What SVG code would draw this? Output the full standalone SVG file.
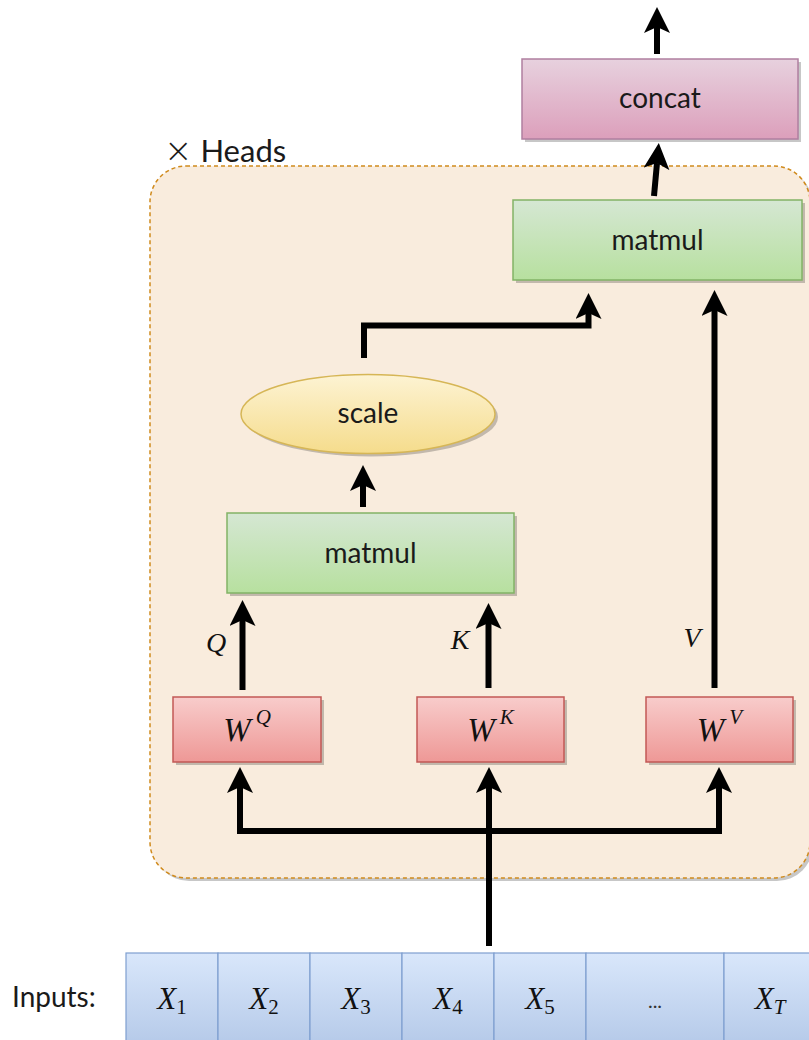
<svg xmlns="http://www.w3.org/2000/svg" width="809" height="1040" viewBox="0 0 809 1040">
  <defs>
    <linearGradient id="gPink" x1="0" y1="0" x2="0" y2="1">
      <stop offset="0" stop-color="#e7d1de"/>
      <stop offset="1" stop-color="#dc9fbb"/>
    </linearGradient>
    <linearGradient id="gGreen" x1="0" y1="0" x2="0" y2="1">
      <stop offset="0" stop-color="#d5e7d3"/>
      <stop offset="1" stop-color="#b7e09f"/>
    </linearGradient>
    <linearGradient id="gYellow" x1="0" y1="0" x2="0" y2="1">
      <stop offset="0" stop-color="#fdf3d3"/>
      <stop offset="1" stop-color="#f5dc8c"/>
    </linearGradient>
    <linearGradient id="gRed" x1="0" y1="0" x2="0" y2="1">
      <stop offset="0" stop-color="#f8cccb"/>
      <stop offset="1" stop-color="#ee9896"/>
    </linearGradient>
    <linearGradient id="gBlue" x1="0" y1="0" x2="0" y2="1">
      <stop offset="0" stop-color="#d9e7fb"/>
      <stop offset="1" stop-color="#b2c7e7"/>
    </linearGradient>
    <!-- notched block arrowhead; reference point sits at the notch -->
    <marker id="arrow" markerUnits="userSpaceOnUse" markerWidth="30" markerHeight="30"
            viewBox="0 0 30 30" refX="6" refY="13" orient="auto">
      <path d="M26,13 L0,0 L6,13 L0,26 Z" fill="#000"/>
    </marker>
    <style>
      .shadow { fill: #000; fill-opacity: 0.22; }
      .label { font-family: Lato, "Liberation Sans", sans-serif; font-size: 28px; fill: #1a1a1a; }
      .title { font-size: 31px; }
      .dots { font-size: 20px; fill: #333; }
      .math { font-family: "Liberation Serif", serif; font-style: italic; fill: #111; }
      .sub { font-style: normal; }
      .edge { fill: none; stroke: #000; stroke-width: 6; marker-end: url(#arrow); }
    </style>
  </defs>

  <rect width="809" height="1040" fill="#ffffff"/>

  <!-- per-head container -->
  <g id="heads">
    <rect class="shadow" x="153" y="169" width="660" height="712" rx="36"/>
    <rect x="150" y="166" width="660" height="712" rx="36" fill="#f9ecdd"
          stroke="#d08a1c" stroke-width="1.5" stroke-dasharray="4 3"/>
    <text class="label title" x="164" y="162"><tspan font-size="34" font-family="'DejaVu Sans', sans-serif" font-weight="200">×</tspan> Heads</text>
  </g>

  <g id="concat">
    <rect class="shadow" x="525" y="62" width="276" height="80"/>
    <rect x="522" y="59" width="276" height="80" fill="url(#gPink)" stroke="#b07fa0" stroke-width="1.5"/>
    <text class="label" x="660" y="108" text-anchor="middle">concat</text>
  </g>

  <g id="matmul-top">
    <rect class="shadow" x="516" y="203" width="289" height="80"/>
    <rect x="513" y="200" width="289" height="80" fill="url(#gGreen)" stroke="#82b366" stroke-width="1.5"/>
    <text class="label" x="657.5" y="250" text-anchor="middle">matmul</text>
  </g>

  <g id="scale">
    <ellipse class="shadow" cx="371" cy="417" rx="127" ry="39.5"/>
    <ellipse cx="368" cy="414" rx="127" ry="39.5" fill="url(#gYellow)" stroke="#d6b656" stroke-width="1.5"/>
    <text class="label" x="368" y="423" text-anchor="middle">scale</text>
  </g>

  <g id="matmul-bottom">
    <rect class="shadow" x="230" y="516" width="287" height="80"/>
    <rect x="227" y="513" width="287" height="80" fill="url(#gGreen)" stroke="#82b366" stroke-width="1.5"/>
    <text class="label" x="370.5" y="563" text-anchor="middle">matmul</text>
  </g>

  <g id="wq">
    <rect class="shadow" x="176" y="700" width="148" height="65"/>
    <rect x="173" y="697" width="148" height="65" fill="url(#gRed)" stroke="#c25855" stroke-width="1.5"/>
    <text class="math" x="247" y="741" text-anchor="middle" font-size="33">W<tspan font-size="21" dx="5" dy="-17">Q</tspan></text>
  </g>

  <g id="wk">
    <rect class="shadow" x="420" y="700" width="147" height="65"/>
    <rect x="417" y="697" width="147" height="65" fill="url(#gRed)" stroke="#c25855" stroke-width="1.5"/>
    <text class="math" x="490.5" y="741" text-anchor="middle" font-size="33">W<tspan font-size="21" dx="5" dy="-17">K</tspan></text>
  </g>

  <g id="wv">
    <rect class="shadow" x="649" y="700" width="147" height="65"/>
    <rect x="646" y="697" width="147" height="65" fill="url(#gRed)" stroke="#c25855" stroke-width="1.5"/>
    <text class="math" x="719.5" y="741" text-anchor="middle" font-size="33">W<tspan font-size="21" dx="5" dy="-17">V</tspan></text>
  </g>

  <g id="inputs">
    <text class="label" x="12" y="1007">Inputs:</text>
    <g fill="url(#gBlue)" stroke="#7f9fd0" stroke-width="1.2">
      <rect x="126" y="953" width="92" height="100"/>
      <rect x="218" y="953" width="92" height="100"/>
      <rect x="310" y="953" width="92" height="100"/>
      <rect x="402" y="953" width="92" height="100"/>
      <rect x="494" y="953" width="92" height="100"/>
      <rect x="586" y="953" width="138" height="100"/>
      <rect x="724" y="953" width="92" height="100"/>
    </g>
    <g class="math" font-size="31" text-anchor="middle">
      <text x="172" y="1009">X<tspan class="sub" font-size="21" dy="5">1</tspan></text>
      <text x="264" y="1009">X<tspan class="sub" font-size="21" dy="5">2</tspan></text>
      <text x="356" y="1009">X<tspan class="sub" font-size="21" dy="5">3</tspan></text>
      <text x="448" y="1009">X<tspan class="sub" font-size="21" dy="5">4</tspan></text>
      <text x="540" y="1009">X<tspan class="sub" font-size="21" dy="5">5</tspan></text>
      <text x="770" y="1009">X<tspan font-size="21" dy="5">T</tspan></text>
    </g>
    <text class="label dots" x="655" y="1008" text-anchor="middle">...</text>
  </g>

  <g id="connectors">
    <path class="edge" d="M657,54 V27"/>
    <path class="edge" d="M654,196 L657,163"/>
    <path class="edge" d="M364,358 V325.5 H588.5 V313"/>
    <path class="edge" d="M363,507 V485"/>
    <path class="edge" d="M242.5,690 V620"/>
    <path class="edge" d="M488.5,688 V623"/>
    <path class="edge" d="M714.5,688 V310"/>
    <path class="edge" d="M489,946 V787"/>
    <path class="edge" d="M489,831 H240 V787"/>
    <path class="edge" d="M489,831 H719 V787"/>
    <g class="math" font-size="28">
      <text x="216" y="652" text-anchor="middle">Q</text>
      <text x="460" y="649" text-anchor="middle">K</text>
      <text x="692" y="647" text-anchor="middle">V</text>
    </g>
  </g>
</svg>
